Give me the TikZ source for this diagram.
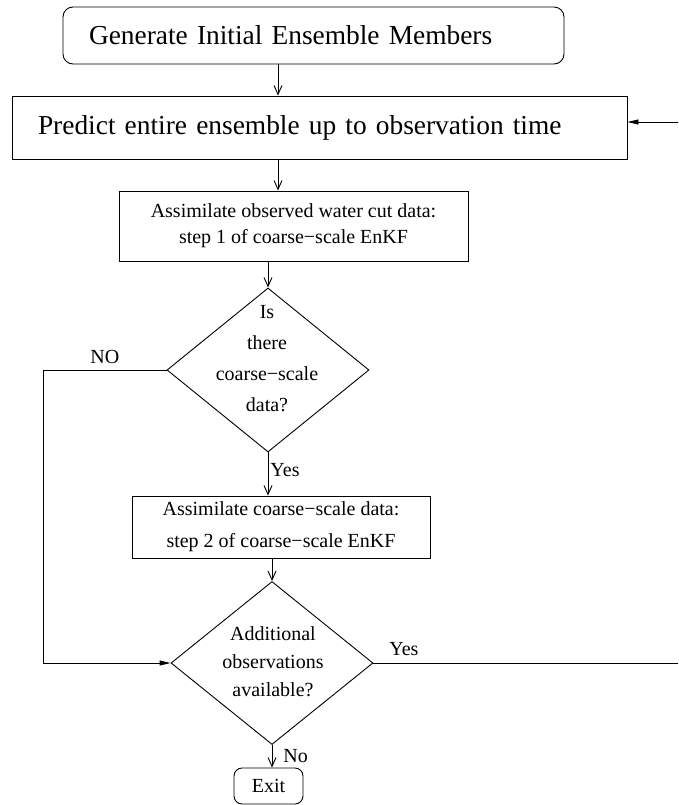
\documentclass[tikz,border=0pt]{standalone}
\usepackage{fontspec}
\setmainfont{Liberation Serif}
\usepackage{tikz}
\usetikzlibrary{arrows.meta}
\usetikzlibrary{shapes.geometric}
\tikzstyle{box}=[draw,line width=.9pt,inner sep=0pt]
\tikzstyle{bigbox}=[box,font=\fontsize{27.4}{32}\selectfont,align=left,inner xsep=26pt]
\tikzstyle{smallbox}=[box,font=\fontsize{20}{26}\selectfont,align=center]
\tikzstyle{decision}=[draw,line width=.9pt,diamond,inner sep=0pt,minimum width=202pt,minimum height=164pt]
\tikzstyle{dtext}=[align=center,inner sep=0pt]
\tikzstyle{flhead}=[>/.tip={Straight Barb[length=9pt,width=8pt]}]
\tikzstyle{fl}=[line width=.9pt,flhead,->]
\tikzstyle{back}=[line width=.9pt,-{Triangle[length=11pt,width=5pt]}]
\tikzstyle{lab}=[font=\fontsize{20}{24}\selectfont,inner sep=2pt]

\begin{document}
\begin{tikzpicture}[x=1pt,y=-1pt]
	\useasboundingbox (0,0) rectangle (678,805);
	\node[bigbox,rounded corners=10pt,text width=449pt,minimum height=57pt] (gen) at (313.5,35.5)
		{Generate Initial Ensemble Members};
	\node[bigbox,text width=563pt,minimum height=63pt] (pred) at (319.5,127.5)
		{Predict entire ensemble up to observation time};
	\node[smallbox,minimum width=349pt,minimum height=70pt] (as1) at (293.5,226)
		{Assimilate observed water cut data:\\step 1 of coarse−scale EnKF};
	\node[decision] (d1) at (268,370) {};
	\node[dtext,font=\fontsize{20}{31}\selectfont] (d1t) at (267,359)
		{Is\\there\\coarse−scale\\data?};
	\node[smallbox,font=\fontsize{20}{32}\selectfont,minimum width=298pt,minimum height=62pt] (as2) at (281,527)
		{Assimilate coarse−scale data:\\step 2 of coarse−scale EnKF};
	\node[decision,minimum height=163pt] (d2) at (272,663) {};
	\node[dtext,font=\fontsize{20}{28}\selectfont] (d2t) at (273,662)
		{Additional\\observations\\available?};
	\node[smallbox,rounded corners=8pt,minimum width=69pt,minimum height=36pt] (exit) at (268.5,786) {Exit};
	\coordinate (colA) at (278,0);
	\coordinate (loopL) at (43,0);
	\coordinate (edgeR) at (678,0);
	\coordinate (inR) at (678,122);
	\draw[fl] (gen.south -| colA) -- (pred.north -| colA);
	\draw[fl] (pred.south -| colA) -- (as1.north -| colA);
	\draw[fl] (as1.south -| d1.north) -- (d1.north);
	\draw[fl] (d1.south) --node[lab,right,pos=.4]{Yes} (d1.south |- as2.north);
	\draw[fl] (as2.south -| d2.north) -- (d2.north);
	\draw[fl] (d2.south) --node[lab,right=9pt]{No} (d2.south |- exit.north);
	\draw[back] (d1.west) --node[lab,above=4pt]{NO} (d1.west -| loopL) |- (d2.west);
	\draw[line width=.9pt] (d2.east) --node[lab,above=5pt,pos=.1]{Yes} (d2.east -| edgeR);
	\draw[back] (inR) -- (inR -| pred.east);
\end{tikzpicture}
\end{document}
